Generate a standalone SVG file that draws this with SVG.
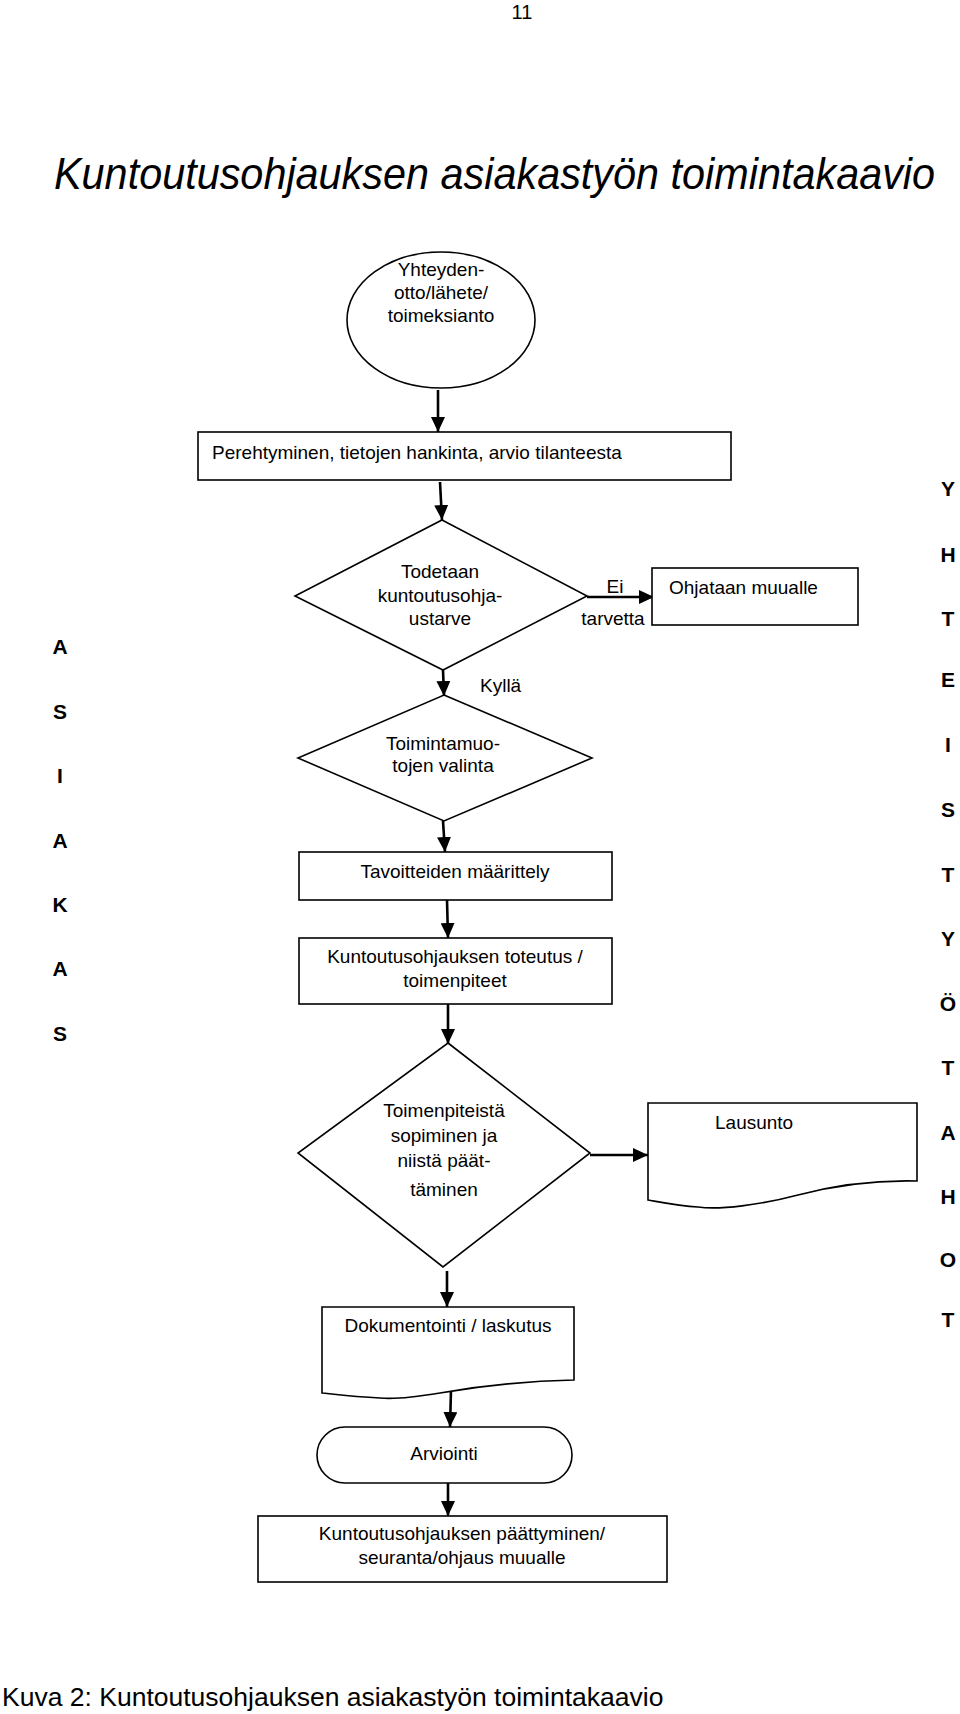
<svg xmlns="http://www.w3.org/2000/svg" width="960" height="1714" viewBox="0 0 960 1714">
<style>
text{font-family:"Liberation Sans",Arial,sans-serif;fill:#000}
.n{font-size:19px;text-anchor:middle}
.l{font-size:19px}
.side{font-size:21px;font-weight:bold;text-anchor:middle}
.shape{fill:#fff;stroke:#000;stroke-width:1.6}
.c{fill:none;stroke:#000;stroke-width:2.6}
</style>
<defs>
<marker id="ah" markerUnits="userSpaceOnUse" markerWidth="16" markerHeight="14" refX="15" refY="7" orient="auto">
<path d="M0,0 L15,7 L0,14 z" fill="#000"/>
</marker>
</defs>
<rect width="960" height="1714" fill="#fff"/>
<text x="522" y="19" style="font-size:20px;text-anchor:middle">11</text>
<text transform="translate(54,189) scale(0.92,1)" x="0" y="0" style="font-size:45px;font-style:italic">Kuntoutusohjauksen asiakastyön toimintakaavio</text>

<g id="connectors">
<line class="c" x1="438" y1="390" x2="438" y2="432" marker-end="url(#ah)"/>
<line class="c" x1="440" y1="482" x2="442" y2="520" marker-end="url(#ah)"/>
<line class="c" x1="587" y1="597" x2="654" y2="597" marker-end="url(#ah)"/>
<line class="c" x1="443" y1="670" x2="444" y2="696" marker-end="url(#ah)"/>
<line class="c" x1="443" y1="821" x2="445" y2="852" marker-end="url(#ah)"/>
<line class="c" x1="447" y1="900" x2="448" y2="938" marker-end="url(#ah)"/>
<line class="c" x1="448" y1="1004" x2="448" y2="1044" marker-end="url(#ah)"/>
<line class="c" x1="590" y1="1155" x2="648" y2="1155" marker-end="url(#ah)"/>
<line class="c" x1="447" y1="1271" x2="447" y2="1307" marker-end="url(#ah)"/>
<line class="c" x1="451" y1="1390" x2="450" y2="1427" marker-end="url(#ah)"/>
<line class="c" x1="448" y1="1483" x2="448" y2="1516" marker-end="url(#ah)"/>
<text x="615" y="593" class="n">Ei</text>
<text x="613" y="625" class="n">tarvetta</text>
<text x="480" y="692" class="l">Kyllä</text>
</g>

<g id="start">
<ellipse class="shape" cx="441" cy="320" rx="94" ry="68"/>
<text class="n" x="441" y="276">Yhteyden-</text>
<text class="n" x="441" y="299">otto/lähete/</text>
<text class="n" x="441" y="322">toimeksianto</text>
</g>

<g id="perehtyminen">
<rect class="shape" x="198" y="432" width="533" height="48"/>
<text class="l" x="212" y="459">Perehtyminen, tietojen hankinta, arvio tilanteesta</text>
</g>

<g id="todetaan">
<polygon class="shape" points="442,520 587,596 443,670 295,596"/>
<text class="n" x="440" y="578">Todetaan</text>
<text class="n" x="440" y="602">kuntoutusohja-</text>
<text class="n" x="440" y="625">ustarve</text>
</g>

<g id="ohjataan">
<rect class="shape" x="652" y="568" width="206" height="57"/>
<text class="l" x="669" y="594">Ohjataan muualle</text>
</g>

<g id="toimintamuodot">
<polygon class="shape" points="444,695 592,758 444,821 298,758"/>
<text class="n" x="443" y="750">Toimintamuo-</text>
<text class="n" x="443" y="772">tojen valinta</text>
</g>

<g id="tavoitteet">
<rect class="shape" x="299" y="852" width="313" height="48"/>
<text class="n" x="455" y="878">Tavoitteiden määrittely</text>
</g>

<g id="toteutus">
<rect class="shape" x="299" y="938" width="313" height="66"/>
<text class="n" x="455" y="963">Kuntoutusohjauksen toteutus /</text>
<text class="n" x="455" y="987">toimenpiteet</text>
</g>

<g id="sopiminen">
<polygon class="shape" points="448,1043 590,1153 443,1267 298,1153"/>
<text class="n" x="444" y="1117">Toimenpiteistä</text>
<text class="n" x="444" y="1142">sopiminen ja</text>
<text class="n" x="444" y="1167">niistä päät-</text>
<text class="n" x="444" y="1196">täminen</text>
</g>

<g id="lausunto">
<path class="shape" d="M648,1103 H917 V1181 C876,1180 836,1185 798,1195 C760,1205 720,1210 698,1207 C680,1206 665,1203 648,1200 Z"/>
<text class="l" x="715" y="1129">Lausunto</text>
</g>

<g id="dokumentointi">
<path class="shape" d="M322,1307 H574 V1380 C530,1381 480,1386 440,1393 C410,1398 390,1399 380,1398 C355,1397 340,1395 322,1393 Z"/>
<text class="n" x="448" y="1332">Dokumentointi / laskutus</text>
</g>

<g id="arviointi">
<rect class="shape" x="317" y="1427" width="255" height="56" rx="28" ry="28"/>
<text class="n" x="444" y="1460">Arviointi</text>
</g>

<g id="paattyminen">
<rect class="shape" x="258" y="1516" width="409" height="66"/>
<text class="n" x="462" y="1540">Kuntoutusohjauksen päättyminen/</text>
<text class="n" x="462" y="1564">seuranta/ohjaus muualle</text>
</g>

<g id="asiakas">
<text class="side" x="60" y="654">A</text>
<text class="side" x="60" y="719">S</text>
<text class="side" x="60" y="783">I</text>
<text class="side" x="60" y="848">A</text>
<text class="side" x="60" y="912">K</text>
<text class="side" x="60" y="976">A</text>
<text class="side" x="60" y="1041">S</text>
</g>

<g id="yhteistyotahot">
<text class="side" x="948" y="496">Y</text>
<text class="side" x="948" y="562">H</text>
<text class="side" x="948" y="626">T</text>
<text class="side" x="948" y="687">E</text>
<text class="side" x="948" y="752">I</text>
<text class="side" x="948" y="817">S</text>
<text class="side" x="948" y="882">T</text>
<text class="side" x="948" y="946">Y</text>
<text class="side" x="948" y="1011">Ö</text>
<text class="side" x="948" y="1075">T</text>
<text class="side" x="948" y="1140">A</text>
<text class="side" x="948" y="1204">H</text>
<text class="side" x="948" y="1267">O</text>
<text class="side" x="948" y="1327">T</text>
</g>

<text x="2" y="1706" style="font-size:26.5px">Kuva 2: Kuntoutusohjauksen asiakastyön toimintakaavio</text>
</svg>
